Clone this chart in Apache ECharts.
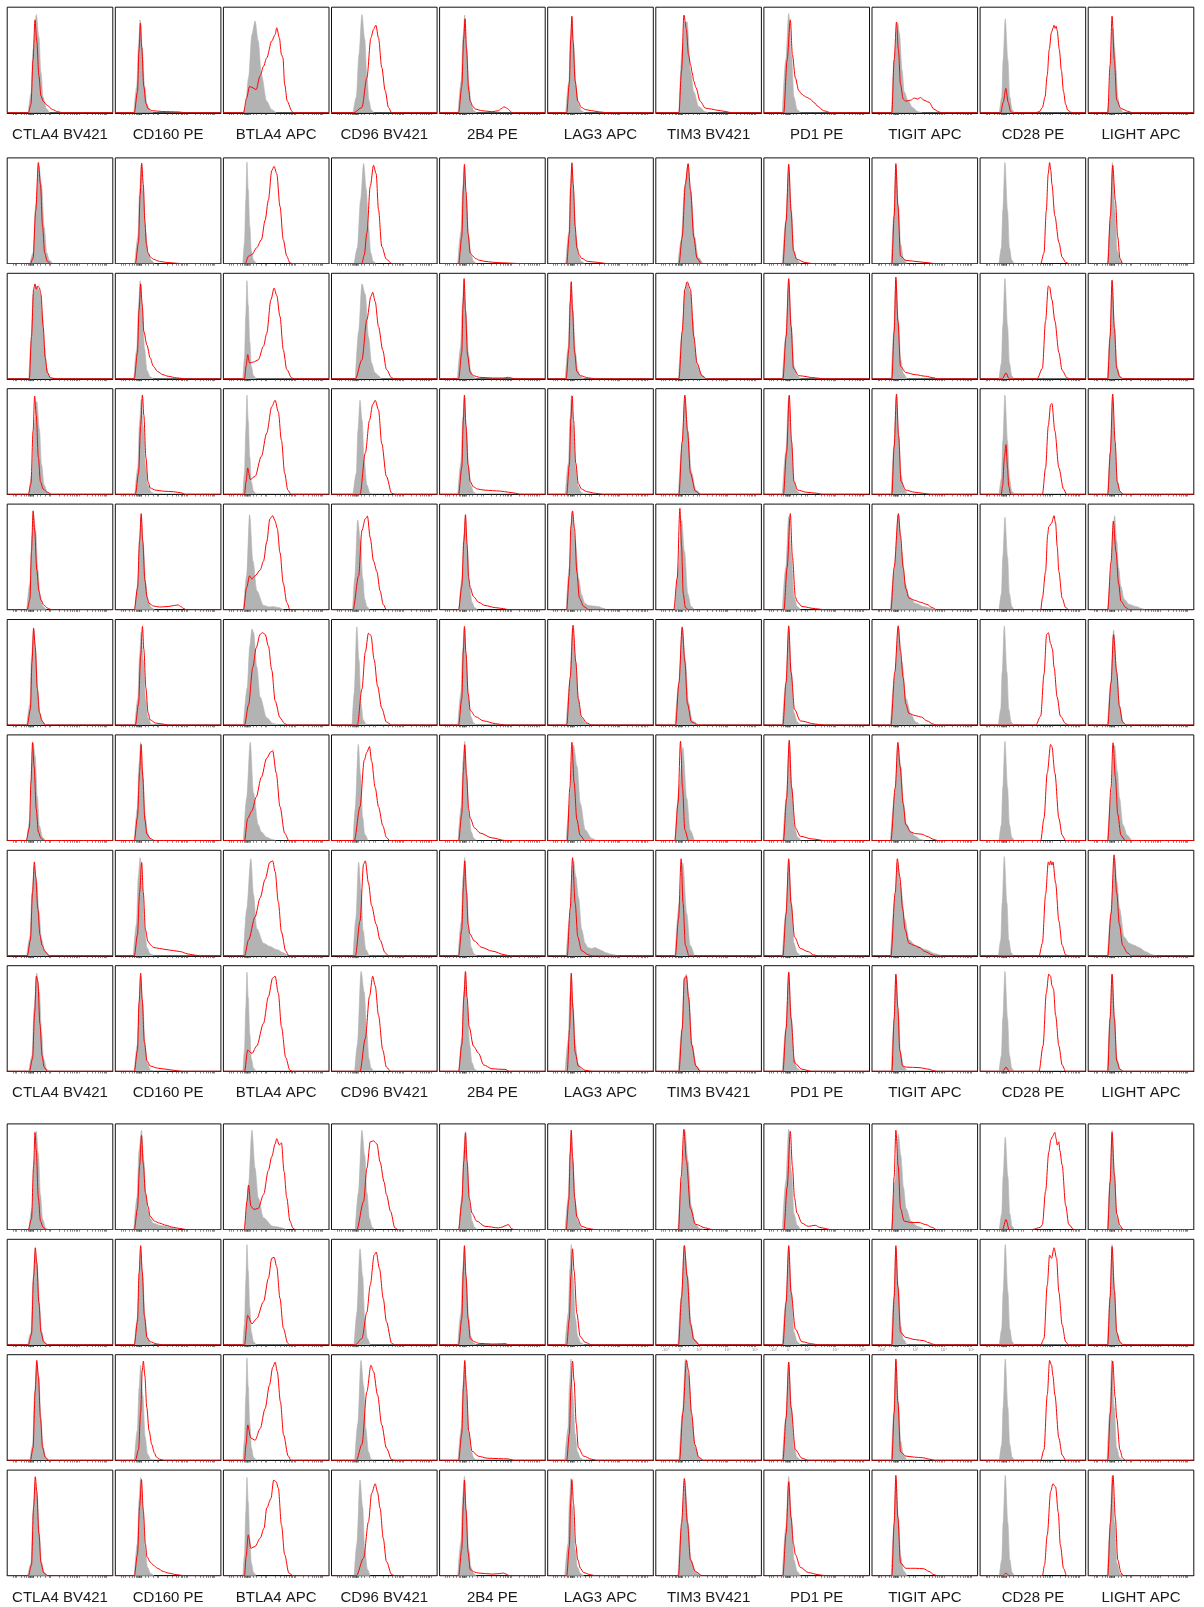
<!DOCTYPE html>
<html><head><meta charset="utf-8">
<script src="https://cdn.jsdelivr.net/npm/echarts@6/dist/echarts.min.js"></script>
<style>html,body{margin:0;padding:0;background:#fff}#chart{width:1204px;height:1607px}</style>
</head><body><div id="chart"></div>
<script>
// Marker names (columns)
const markers = ['CTLA4 BV421','CD160 PE','BTLA4 APC','CD96 BV421','2B4 PE','LAG3 APC','TIM3 BV421','PD1 PE','TIGIT APC','CD28 PE','LIGHT APC'];

// Each curve: flat list x,y,x,y... ; x = position on biexponential display scale (0-100), y = % of mode (panel height)
// 13 rows per marker, top to bottom.
const CTLA4_gray = [
 [20,0, 22.5,18, 24.5,60, 27.6,93, 30,72, 32,38, 34,15, 37,4, 40,0],
 [21.5,0, 24.5,10, 27,55, 30,92, 32.5,75, 35,35, 37.5,10, 40,3, 43,0],
 [20.5,0, 22.5,35, 24.5,80, 27,88, 29,86, 31.5,80, 33.5,60, 35.5,30, 37.5,10, 40,2, 43,0],
 [20.5,0, 23.5,20, 25.5,65, 28,88, 30.5,62, 32.5,28, 35,9, 38,2, 41,0],
 [18.5,0, 21.5,25, 23.5,70, 25,90, 27,75, 29,38, 31,14, 34,3, 37,0],
 [18.5,0, 21.5,20, 23,65, 25,90, 27,70, 29,32, 31,11, 34,2, 37,0],
 [18.5,0, 21.5,20, 23,70, 24.5,92, 26.5,80, 28.5,42, 30.5,14, 33.5,3, 36,0],
 [18.5,0, 21.5,18, 23.5,60, 25.7,85, 28,70, 30,42, 32.5,16, 35.5,5, 39,0],
 [20.5,0, 23.5,15, 25.5,60, 28,93, 30.5,75, 32.5,37, 34.5,12, 37.5,2, 40,0],
 [20.5,0, 23.5,20, 25.5,65, 27.6,93, 29.5,72, 31.5,33, 33.5,10, 36.5,1, 39,0],
 [19.5,0, 22.5,12, 24.5,60, 26.6,88, 28.5,75, 30.5,40, 32.5,13, 35,3, 38,0],
 [21.5,0, 24,14, 26,65, 28,93, 30,78, 32,40, 34,13, 36.5,3, 39,0],
 [19.5,0, 22.5,12, 24.5,60, 26.6,88, 28.5,75, 30.5,40, 32.5,13, 35,3, 38,0]
];
const CTLA4_red = [
 [20,0, 22.5,8, 24.5,50, 26.3,88, 28,68, 30,35, 32,16, 34,11, 38,7, 43,3, 48,1, 53,0],
 [22,0, 24.5,5, 27,50, 29.5,95.6, 31.5,75, 33.5,35, 35.5,10, 38,2, 41,0],
 [21,0, 23,40, 25,85, 26.3,90, 27.5,85, 29,88, 30.5,86, 32,80, 34,50, 36,20, 38,6, 41,1, 48,0],
 [20,0, 22.5,10, 24.5,60, 26,93, 27.5,75, 29.5,35, 31.5,12, 34,5, 38,2, 42,0],
 [19,0, 21.5,10, 23,55, 24.5,93.6, 26,75, 28,38, 30,18, 32,9, 35,4, 39,1, 42,0],
 [19,0, 22,15, 23.5,60, 25,92, 26.5,75, 28.5,35, 30.5,12, 33,4, 36,0],
 [18,0, 21,12, 22.5,55, 24,93, 25.5,70, 27.5,30, 29.5,8, 32,2, 35,0],
 [19,0, 22,15, 24,60, 25.7,89, 27,75, 29,45, 31,20, 33,10, 36,4, 40,0],
 [21,0, 24,12, 26,55, 27.6,90, 29,85, 31,45, 33,15, 35,4, 38,0],
 [20,0, 23,10, 25,60, 26.3,92, 27.5,75, 29.5,30, 31.5,8, 34,2, 37,0],
 [20,0, 23,10, 25,65, 26.6,92, 28,78, 30,40, 32,12, 34.5,3, 38,0],
 [22,0, 24.5,12, 26.5,65, 28,94.6, 29.5,80, 31.5,40, 33.5,12, 36,3, 39,0],
 [20,0, 23,10, 25,65, 26.6,93.7, 28,80, 30,40, 32,12, 34.5,3, 38,0]
];
const CD160_gray = [
 [17.5,0, 20.3,25, 22,65, 23.5,88, 25.5,62, 27.8,25, 30,8, 33,2, 36,0],
 [18.5,0, 21.3,25, 23,68, 24.5,93, 26.5,68, 28.8,30, 31,10, 34,3, 37,0],
 [17.5,0, 20.3,28, 22,70, 23.5,93, 25.5,68, 27.8,28, 30,8, 33,2, 36,0],
 [18.5,0, 21.3,25, 23,68, 24.5,90, 26.5,64, 28.8,26, 31,8, 34,2, 37,0],
 [18.5,0, 21.3,25, 23,68, 24.5,89, 26.5,62, 28.8,25, 31,8, 34,2, 37,0],
 [18.5,0, 21.3,25, 23,66, 24.5,88, 26.5,62, 28.8,24, 31,7, 34,1, 37,0],
 [18,0, 20.8,30, 22.5,72, 24,93, 26,65, 28.3,24, 30.5,7, 33.5,1, 36.5,0],
 [17,0, 20,30, 21.8,75, 23.5,93, 25.5,66, 27.8,26, 30,8, 33,2, 36,0],
 [18,0, 20.8,25, 22.5,66, 24,90, 26,64, 28.3,24, 30.5,7, 33.5,1, 36.5,0],
 [17.5,0, 20.5,30, 22.5,75, 24.8,94, 27,65, 29,32, 31,18, 33.5,10, 36,6, 42,4, 48,3, 55,1.5, 60,0],
 [18,0, 20.8,25, 22.5,66, 24,90, 26,64, 28.3,24, 30.5,7, 33.5,1, 36.5,0],
 [18,0, 20.8,28, 22.5,68, 24,90, 26,62, 28.3,22, 30.5,6, 33.5,1, 36.5,0],
 [18,0, 20.8,30, 22.5,72, 24,93, 26,65, 28.3,25, 30.5,8, 33.5,2, 36.5,0]
];
const CD160_red = [
 [18,0, 21,20, 22.5,60, 23.8,85, 25,62, 27,25, 29,9, 31,4, 35,2, 45,1.2, 60,0.8, 67,0],
 [19,0, 22,20, 23.5,65, 25,95, 26.5,75, 28,40, 29.5,18, 31,10, 33.5,6, 36,4, 42,2, 48.6,1, 61,0],
 [18,0, 21,25, 22.5,65, 24,90, 25.5,70, 27,45, 30,32, 33,20, 36,12, 40,7, 45,4, 50,2.5, 58,1, 67,0],
 [19,0, 22,20, 24,65, 25.7,94, 27,75, 29,35, 31,12, 33,6, 38,4, 45,3, 55,2.5, 62,1.5, 66,0],
 [18,0, 21,20, 23,65, 24.5,91, 26,65, 28,28, 30,12, 32,6, 36,3.5, 42,2.5, 50,3, 56,4, 59.6,4.5, 62,3, 65,1, 67,0],
 [19,0, 22,20, 24,65, 25.7,93.5, 27,72, 29,35, 31,12, 33,5, 38,2, 45,1, 50,0],
 [18,0, 21,22, 23,65, 24.5,91, 26,60, 28,20, 30,6, 33,2, 37,0],
 [18,0, 21,20, 23,60, 25,88.6, 26.5,60, 28.5,25, 31,13.5, 34,10, 36,8, 42,7, 48,6, 55,5, 62,4, 68,2, 73.6,1, 80,0],
 [18,0, 21,20, 22.5,65, 24,93, 25.5,68, 27.5,28, 30,10, 33,5, 40,3, 48,2, 55,1, 62,0],
 [18,0, 21,20, 23,60, 24.8,89, 26.5,62, 28.5,35, 31,22, 33,12.5, 37,8, 42,6, 48,4, 55,2, 61,1, 67,0],
 [18,0, 21,22, 22.5,68, 24,94, 25.5,70, 27.5,28, 30,7, 33,3, 39,1, 45,0],
 [19,0, 22,10, 24,45, 25.5,85, 26.6,94, 28,80, 29.8,50, 32,28, 34.5,15, 37,7, 39,3, 42,1, 46,0],
 [18,0, 21,20, 23,65, 24.8,91, 26.5,62, 28.5,30, 30,18, 33,13, 36,10, 40,7, 45.5,4, 50,2.5, 58,1, 65,0]
];
const BTLA4_gray = [
 [19,0, 20.7,5, 23.8,33, 27,74, 30,87, 33,68, 36,36, 41,11, 45.8,3, 50,0],
 [18.5,0, 20,20, 21.2,60, 22.3,96, 23.5,70, 25,35, 26.5,12, 28.5,3, 31,0],
 [18.5,0, 20,20, 21.2,60, 22.3,93, 23.5,70, 25,35, 26.5,12, 28.5,3, 31,0],
 [18.5,0, 20,20, 21.2,60, 22.3,94, 23.5,70, 25,35, 26.5,12, 28.5,3, 31,0],
 [19,0, 22,32, 24.8,90, 28,46, 31.7,18, 38,4, 44,2.5, 47,3, 52,2, 57,0],
 [19,0, 22.5,35, 25,75, 27,91, 28.5,88, 31.7,55, 34.8,26.5, 41,7, 47,1.5, 52,0],
 [19,0, 22,40, 25.4,93, 28.5,45, 33,15, 36,8, 41,3, 46,1, 50,0],
 [19,0, 22,44, 26,92, 28.5,58, 31.6,26, 38,12, 44,9, 50.5,6, 56.7,3, 61,0],
 [18.5,0, 20,20, 21.2,60, 22.3,94, 23.5,70, 25,35, 26.5,12, 28.5,3, 31,0],
 [20.7,0, 23.8,42, 27,94, 30,58, 33,30, 38,11, 47,3, 60,0],
 [18.5,0, 20,20, 21.2,60, 22.3,95, 23.5,70, 25,35, 26.5,12, 28.5,3, 31,0],
 [18.5,0, 20,20, 21.2,60, 22.3,97, 23.5,70, 25,35, 26.5,12, 28.5,3, 31,0],
 [18.5,0, 20,20, 21.2,60, 22.3,93, 23.5,70, 25,35, 26.5,12, 28.5,3, 31,0]
];
const BTLA4_red = [
 [19,0, 22,14, 24.8,25, 27,24, 31,22, 34.8,35, 38,44, 41,52, 45.8,68, 49,74, 50.5,80.5, 53,71, 55,55, 56.4,52, 58,27, 60.5,11, 64.6,2, 66,0],
 [20.7,0, 23.8,7, 27,8.5, 31.6,15, 36,22.5, 39.5,41, 42.6,60, 45.8,88, 48,92, 50.5,85, 53.6,54, 56.7,22.5, 60,7, 63,0.6, 65,0],
 [20,0, 21.5,12, 23,23, 24.8,15, 28.5,16, 33,18, 38,31, 41,43, 45,75, 48,86, 50.5,79, 53.6,59, 56.7,27.6, 60,9, 64.6,1, 67,0],
 [20,0, 21.5,12, 23,25, 25.4,14, 30,17, 36,36, 41,58, 45.8,83, 49,89, 52,78, 55,51, 58,20, 61,4, 64,0],
 [19,0, 22,21, 24.8,32, 27,29, 30,32, 34.8,37.5, 38,46, 41,64, 44,86, 46.7,89, 49,84, 51,77, 53.6,54, 56.7,25, 60,7, 63,0],
 [20,0, 23.8,19, 27.9,55, 31,73, 34.8,86, 37,87.5, 39.5,86, 42.6,75, 45.8,52, 49,23, 53.6,7, 58,1.5, 61,0],
 [20,0, 23,21, 27,28, 31,41, 36,60, 41,78, 45,84, 46.7,85, 50,64, 53.6,32, 58,7, 62,0],
 [20,0, 23.8,15, 30,37, 34.8,55, 39.5,72.5, 44,88.6, 46.7,90, 49,79.6, 52,51, 55,22.5, 59,4.6, 62,0],
 [20,0, 23,20, 27,17, 31.6,24, 38,45.5, 42.6,70.6, 46.7,88.5, 49,90, 52,74, 55,42, 59,13, 63,1, 65,0],
 [19.7,0, 22.3,26.5, 23.8,42, 26,22, 29,19, 33,20, 38,33, 42.6,56, 45.8,69, 49,81, 50.5,86, 53,80, 55,82, 57.4,55, 60,30, 63,8, 66,1, 68,0],
 [20,0, 23,28, 27,20, 31.6,25, 38,41, 42.6,63, 45.8,82, 48,83, 50.5,74, 53.6,44, 56.7,16, 61,1.5, 63,0],
 [20,0, 21.5,15, 23,33.5, 26,21, 30,19, 34.8,30, 39.5,49, 43.6,71, 46.7,88, 49,93, 51,84, 54,55.5, 57,24, 61.4,4, 64,0],
 [20,0, 21.5,18, 23.5,38.7, 26,26, 30,27.7, 34.8,35.5, 38.5,45, 41,64, 45,73, 47.6,90.5, 50,89, 52,83, 55,48, 58,20, 62,2.5, 66,0]
];
const CD96_gray = [
 [20.5,0, 23.5,15, 26,55, 28.8,93, 31.5,70, 33.5,35, 35.5,12, 37.5,3, 40,0],
 [21.5,0, 24.5,15, 27.5,60, 30.4,94.6, 33,70, 35,35, 37.2,10, 39.5,2, 42,0],
 [22.6,0, 25.7,45, 28.8,90, 32,80, 35,40, 38,15, 41,6, 44.5,3, 47,0],
 [20.5,0, 23.5,20, 25,60, 27,89, 29,70, 31,32, 33.5,9, 36.5,1, 39,0],
 [20,0, 22,30, 24.8,85, 27.5,65, 29.5,30, 31.5,10, 33.5,3, 36,0],
 [19.5,0, 21.5,30, 24,93, 26,62, 28,20, 30,5, 32.5,0],
 [20.5,0, 22.5,30, 25.4,91, 27.5,62, 29.5,22, 31.5,6, 34.5,0],
 [20.5,0, 23,35, 25.7,88.6, 28,62, 30,24, 32.5,6, 35.5,0],
 [22,0, 24.5,25, 28,94.6, 31,75, 33.5,35, 35.5,12, 37.5,3, 40,0],
 [22.5,0, 25.5,35, 28.8,94, 31.5,70, 33.5,35, 36,10, 38.5,2, 41,0],
 [21.5,0, 24,30, 27,91, 29.5,65, 31.5,25, 34,6, 36.5,0],
 [22,0, 25,35, 27.9,94.6, 30.5,70, 32.5,30, 35,8, 37.5,1, 40,0],
 [21.5,0, 24,30, 27,90.6, 29.5,65, 31.5,25, 34,6, 36.5,0]
];
const CD96_red = [
 [21,0, 28.8,5, 33.5,33, 37.3,71, 39.8,79, 42,83, 44.5,71, 47.6,43, 50.8,21, 54,5, 57,0],
 [28.8,0, 31,8, 33.5,29, 36.7,73, 39.8,93, 42.3,85, 44.5,51, 47.6,16, 52,4, 57,0],
 [22.6,0, 28.8,18, 33.5,56, 37.3,78, 39,82, 41.4,73, 44.5,49.5, 48.6,27, 52,9, 57,1, 60,0],
 [27,0, 32,39, 36,70, 39,85, 41.4,89, 44.5,80, 47.6,48, 52,17, 57,1, 60,0],
 [20.4,0, 25.7,32, 28.8,75, 32,86, 34,88.6, 36.7,68, 39.8,46, 43,36, 46,18, 49,5, 52,0],
 [24.5,0, 28.8,34, 32,69, 35,87, 37.3,85, 40.4,62, 43.6,37, 47.6,16, 52,3, 57,0],
 [21.6,0, 27,32, 31,76, 33.5,83.6, 36,89, 38,75, 41.4,50, 44.5,32, 48.6,14, 52,3, 55,0],
 [22.6,0, 27,33, 30.4,87, 32,90, 35,69, 38,47.5, 42.3,30, 46,15, 50.8,3, 54,0],
 [27,0, 32,31, 36,71, 39,90, 41.4,81, 44.5,53, 48.6,20, 52,4, 56,0],
 [24,0, 30.4,26.5, 33.5,58, 36.7,83, 39.8,84, 43,81, 46,64, 49.8,45, 52,33, 56,17, 60,1.5, 63,0],
 [22.6,0, 28.8,6, 33.5,31, 36.7,56.6, 40.4,85, 42.3,88, 45.5,72, 49,44, 52,22, 57,1.6, 60,0],
 [23.5,0, 28.8,15, 33.5,65, 37.3,90, 39.8,84, 43.6,62, 47.6,33.5, 52,11.6, 57,0.6, 60,0],
 [23.5,0, 30.4,16.7, 35,51, 38,78, 41.4,87, 43.6,79, 46,64, 49,35.5, 52,13.5, 57,1, 60,0]
];
const B2B4_gray = [
 [17.5,0, 20.5,30, 22.2,72, 23.8,92.5, 25.6,62, 27.8,25, 30,8, 32.5,2, 35,0],
 [17.2,0, 20.2,30, 21.9,72, 23.5,92, 25.3,62, 27.5,25, 29.7,8, 32.2,2, 34.7,0],
 [16.9,0, 19.9,30, 21.6,72, 23.2,93, 25,62, 27.2,25, 29.4,8, 31.9,2, 34.4,0],
 [17.2,0, 20.2,30, 21.9,72, 23.5,92, 25.3,62, 27.5,25, 29.7,8, 32.2,2, 34.7,0],
 [18.2,0, 21.2,30, 22.9,70, 24.5,88, 26.3,58, 28.5,22, 30.7,7, 33.2,2, 35.7,0],
 [17.2,0, 20.2,30, 21.9,72, 23.5,92, 25.3,62, 27.5,25, 29.7,8, 32.2,2, 34.7,0],
 [17.5,0, 20.5,32, 22.2,75, 23.8,94, 25.6,62, 27.8,25, 30,8, 32.5,2, 35,0],
 [17.5,0, 20.5,32, 22.2,75, 23.8,93, 25.6,62, 27.8,25, 30,8, 32.5,2, 35,0],
 [18.2,0, 21.2,32, 22.9,75, 24.5,94, 26.3,62, 28.5,25, 30.7,8, 33.2,2, 35.7,0],
 [18.2,0, 21.2,32, 22.9,75, 24.5,93, 26.3,62, 28.5,25, 30.7,8, 33.2,2, 35.7,0],
 [17.2,0, 20.2,30, 21.9,72, 23.5,92, 25.3,62, 27.5,25, 29.7,8, 32.2,2, 34.7,0],
 [17.5,0, 20.5,30, 22.2,72, 23.8,93, 25.6,62, 27.8,25, 30,8, 32.5,2, 35,0],
 [17.2,0, 20.2,32, 21.9,75, 23.5,94, 25.3,62, 27.5,25, 29.7,8, 32.2,2, 34.7,0]
];
const B2B4_red = [
 [18,0, 21,25, 22.8,70, 24.1,89, 25.5,60, 27.5,22, 29,11, 31.5,6, 34,3.5, 40,2, 49.5,1, 55.8,2, 58.5,4, 61,5.7, 63.5,4.5, 65,3.5, 67,1.5, 69,0],
 [18,0, 21,25, 22.5,70, 23.5,94, 25,68, 27,28, 29,10, 31.5,7, 34,4.7, 38,3, 43,2, 50,1.2, 59,0.6, 75,0],
 [18,0, 21,25, 22.2,70, 23.2,95, 24.5,65, 26.5,22, 29,6, 32,3, 38,1.5, 50,0.8, 60,0.8, 65,1.5, 68,0.8, 72,0],
 [18,0, 21,25, 22.5,70, 23.5,94, 25,65, 27,28, 29,12, 32,7, 36,5, 42,4, 50,3.5, 58,3, 65,2, 72,1, 76,0],
 [18,0, 21,22, 23,65, 24.5,90, 26,62, 27.5,30, 29,21, 32,12.5, 37,7, 43,4, 52.7,2, 60.5,1, 65,0],
 [18,0, 21,25, 22.5,70, 23.5,93.5, 25,68, 27,30, 29,14, 34,8, 41.7,4, 53,1.4, 62,0],
 [18,0, 21,25, 22.5,65, 23.8,90.7, 25.5,62, 27.5,30, 29,21, 33,12, 38.5,7, 49.5,2.5, 62,0],
 [18,0, 21,25, 22.5,65, 23.8,90, 25.5,60, 27,30, 28.5,21, 33,14, 40,8, 49.5,4.6, 62,1, 67,0],
 [18,0, 21,25, 23,70, 24.5,94.6, 26,70, 28,42, 32,24, 37,17, 41.7,6, 49.5,2.5, 56,2, 62,1.8, 66,0],
 [18,0, 21,25, 23,65, 24.5,91.5, 26,65, 28,30, 30.7,15.6, 35,8, 43,3, 55.8,1.5, 60,2.5, 62,3.5, 65,4.7, 68,1, 70,0],
 [18,0, 21,25, 22.5,70, 23.5,94, 25,65, 27,25, 29,6, 33,3, 37,1.5, 50,0.8, 58,1, 62,1.2, 66,0],
 [18,0, 21,25, 22.5,68, 23.8,94.6, 25.5,68, 27.5,28, 30.7,8.5, 37,3.8, 45,2, 55.8,1.6, 65,1.3, 70,0],
 [18,0, 21,25, 22.5,68, 23.5,90.6, 25,62, 27,22, 29,5.7, 33,3.5, 37,2.5, 50,1.5, 57,2, 60.5,2.5, 63,1.5, 66,0]
];
const LAG3_gray = [
 [17.1,0, 20.1,30, 21.6,72, 22.9,90, 24.5,65, 26.9,25, 29.1,8, 31.9,2, 34.9,0],
 [17.1,0, 20.1,30, 21.6,75, 22.9,96, 24.5,68, 26.9,26, 29.1,8, 31.9,2, 34.9,0],
 [16.5,0, 19.5,30, 21,72, 22.3,92, 23.9,65, 26.3,25, 28.5,8, 31.3,2, 34.3,0],
 [16.7,0, 19.7,30, 21.2,72, 22.5,94, 24.1,65, 26.5,25, 28.7,8, 31.5,2, 34.5,0],
 [17.5,0, 20.4,40, 23,92, 26.2,65, 29.2,30, 32.2,14, 35,6, 38.6,4, 43,3.5, 48,3, 52,1.5, 55.8,0],
 [17.5,0, 21,40, 23.5,92, 26.3,62, 29,25, 31.5,8, 35.5,2, 39,0],
 [17.5,0, 20.7,35, 23.5,85, 24.5,90, 27.8,70, 30.9,35, 35.6,10, 41.7,2, 46,0],
 [17.5,0, 20.7,35, 23.5,85, 24.5,90, 26.7,75, 29.2,55, 32.2,25, 35.4,12, 38,8, 41.7,7, 44.8,8, 48,6.5, 51,5, 55,3, 60.5,1.5, 66.8,0],
 [16.5,0, 19.5,30, 21,72, 22.3,92, 23.9,65, 26.3,25, 28.5,8, 31.3,2, 34.3,0],
 [16.5,0, 19.5,30, 21,72, 22.3,94, 23.9,65, 26.3,25, 28.5,8, 31.3,2, 34.3,0],
 [16.5,0, 19.5,30, 21,72, 22.3,95, 23.9,65, 26.3,25, 28.5,8, 31.3,2, 34.3,0],
 [16.2,0, 19.2,30, 20.7,72, 22,96, 23.6,65, 26,25, 28.2,8, 31,2, 34,0],
 [16.2,0, 19.2,30, 20.7,72, 22,92, 23.6,65, 26,25, 28.2,8, 31,2, 34,0]
];
const LAG3_red = [
 [18,0, 20.5,28, 21.8,70, 22.9,91.5, 24,68, 26,30, 28.5,11, 32,5, 36,3, 41.7,2, 48,1, 54,0.3, 60,0],
 [18,0, 20.5,28, 21.8,72, 22.9,95, 24.2,75, 26,35, 27.6,15, 30,8, 32,5, 38,2, 48,1, 55,0],
 [17.5,0, 20,28, 21.3,72, 22.3,92, 23.5,65, 25.5,25, 27.6,7, 31,3, 38.6,1, 45,0],
 [18,0, 20.5,28, 22,72, 23.2,93, 24.5,70, 26.5,30, 29,10, 32,5, 37,2.5, 45,1, 52,0],
 [18,0, 20.4,32, 22,79, 23.5,93.6, 25.4,77, 27.6,36, 30,11, 34,3, 39,0],
 [18,0, 21.3,45, 24,94.6, 26.6,60, 29,25, 32,8, 37,2, 41.7,0],
 [18.5,0, 21,50, 22.9,93, 25,55, 27.6,20, 30.7,5, 35,0],
 [18.5,0, 21.3,45, 23.5,93, 26,50, 28.5,18, 32,5, 38.6,1, 42,0],
 [18.5,0, 20.7,40, 22.3,93, 23.8,60, 26,18, 29,5, 35.4,1, 41.7,0],
 [17.5,0, 20,28, 21.3,72, 22.3,94, 23.6,68, 25.5,30, 27.6,12, 32,3, 38.6,1, 44,0],
 [18,0, 20.5,25, 22,65, 23.5,91, 25,70, 27.6,30, 30.7,8, 35.4,2.5, 41.7,0],
 [18,0, 20.5,25, 22,68, 23.5,94, 25,75, 27,35, 29,12, 34,4, 41.7,1, 46,0],
 [18,0, 20.5,28, 21.8,70, 22.9,91, 24.5,68, 26.5,30, 28.5,15, 31,7, 34,3, 40,1, 45,0]
];
const TIM3_gray = [
 [21.9,0, 25,60, 27.5,86, 29.7,86, 32.8,40, 36,20, 40.6,6, 47,1, 50,0],
 [21,0, 24,22, 27.3,72, 30.5,94, 33.3,68, 36.8,25, 40,6, 44.5,0],
 [21.5,0, 24.7,42, 27.5,82, 29.7,90, 32.8,82, 35.3,55, 37,30, 39.5,12, 44,3, 48,0],
 [21.4,0, 24.7,45, 27.5,92, 30.5,60, 33.5,22, 38,4, 42.5,0],
 [18.2,0, 21.6,40, 24.4,85, 27.2,55, 30.3,15, 33.4,3, 36.5,0],
 [18.2,0, 21.6,38, 25,92, 28,62, 30.8,22, 34.5,4, 40.5,0],
 [18.2,0, 22.2,50, 25.6,88, 29.3,40, 32.5,10, 36.5,0],
 [18.2,0, 22.2,50, 25.6,88, 29.3,40, 32.5,10, 36.5,0],
 [21.4,0, 24.7,40, 27,88, 29,92, 31.4,70, 34.5,25, 38.5,5, 42.5,0],
 [21,0, 24.2,45, 27.5,94, 30.5,65, 33.6,22, 37.6,5, 41.5,1, 45.5,0],
 [21,0, 24.1,45, 27,94, 30.2,65, 33.4,20, 36.6,5, 41.5,0],
 [22,0, 25.3,45, 28,96, 31.3,80, 34.2,40, 37.5,12, 41,2, 44.5,0],
 [21,0, 24.1,45, 27.5,90, 30.5,50, 33.4,15, 38,3, 42.5,0]
];
const TIM3_red = [
 [21.9,0, 24.4,40, 26.6,92.5, 28.8,80, 31,55, 33,45, 34.4,38, 36,30, 38,24, 42,11, 47,4.4, 53,3.5, 57.8,2.5, 65.6,1.3, 72,0],
 [22,0, 25,25, 28,75, 30.6,94.6, 32.8,70, 36,25, 39,5, 43,0],
 [21.9,0, 25,45, 27.5,85, 29.7,92, 32.8,85, 36,40, 39,15, 43.7,3, 48,0],
 [21.9,0, 25,50, 27.5,94, 30,60, 32.8,20, 37.5,3, 42,0],
 [17,0, 20.3,30, 22.8,96, 24.4,60, 26,15, 28,2, 31,0],
 [18.75,0, 21.9,40, 25,93, 27.5,60, 30,20, 33.8,3, 40,0],
 [18,0, 21,35, 23.4,94, 25.3,50, 27.5,10, 31,0],
 [18.5,0, 21.5,35, 24,92, 25.8,50, 28,10, 31.5,0],
 [21.9,0, 25,40, 27,88, 29,90, 31,70, 34,25, 38,5, 42,0],
 [21.5,0, 24,50, 26.6,95, 29,65, 32.8,20, 37.5,5, 47,1.5, 53,0],
 [21.5,0, 24.4,45, 27,94, 29.7,65, 32.8,20, 36,5, 41,0],
 [22.5,0, 25.6,45, 29,94.6, 31,85, 33.8,45, 37,15, 40.6,3, 45,0],
 [21.5,0, 24.4,50, 27,92, 30,50, 32.8,15, 37.5,4, 44,0]
];
const PD1_gray = [
 [17.5,0, 20.7,50, 23.5,94, 26.1,55, 28.5,15, 31.5,3, 34.5,0],
 [17.5,0, 20.7,40, 23.5,93, 26.1,50, 28.5,12, 31.5,3, 34.5,0],
 [17.5,0, 20.7,40, 23.5,93, 26.1,50, 28.5,12, 31.5,3, 34.5,0],
 [17.5,0, 20.7,40, 23.5,92, 26.1,50, 28.5,12, 31.5,3, 34.5,0],
 [17.5,0, 20.7,40, 23.5,88, 26.1,50, 28.5,12, 31.5,3, 34.5,0],
 [17.5,0, 20.7,40, 23.5,92, 26.1,50, 28.5,12, 31.5,3, 34.5,0],
 [18,0, 21.2,40, 24,93, 26.6,50, 29,12, 32,3, 35,0],
 [17.5,0, 20.7,40, 23.5,90, 26.1,50, 28.5,12, 31.5,3, 34.5,0],
 [17.5,0, 20.7,40, 23.5,93, 26.1,50, 28.5,12, 31.5,3, 34.5,0],
 [17.5,0, 20.7,45, 23.5,95, 26.1,55, 28.5,15, 31.5,4, 34.5,0],
 [17.5,0, 20.7,40, 23.5,93, 26.1,50, 28.5,12, 31.5,3, 34.5,0],
 [17.5,0, 20.7,40, 23.5,93, 26.1,50, 28.5,12, 31.5,3, 34.5,0],
 [17.5,0, 20.7,45, 23.5,94, 26.1,55, 28.5,15, 31.5,4, 34.5,0]
];
const PD1_red = [
 [18.8,0, 22,50, 25,88, 27,55, 29.8,33, 33,21, 36,17.6, 38,16, 40.8,14.5, 44,13, 47,10, 51.7,5.7, 56.4,2, 62.7,0.3, 66,0],
 [18,0, 21,40, 23.5,94, 25.7,50, 28,12, 31,4, 39,1, 45,0],
 [18,0, 21,40, 23.5,95, 25.7,50, 28,10, 33,3, 48.6,1, 57,0],
 [18.5,0, 21.5,40, 24,94, 26.2,50, 28.5,12, 32,4, 40,2, 50,1, 55,0],
 [19,0, 22,40, 25,91, 27,50, 29.8,12, 32,7, 36,3, 48.6,1, 57,0],
 [18,0, 21,40, 23.5,94, 25.7,50, 29,15, 34.5,4, 48.6,1, 57,0],
 [18.5,0, 21.5,40, 24,95, 26.2,50, 29.8,12, 34.5,4, 45.5,1.5, 57,0],
 [18,0, 21,40, 23.5,92, 25.7,50, 29,18, 34.5,7, 42,4, 47,1, 52,0],
 [18,0, 21,40, 23.5,94, 25.7,50, 29,8, 36,2, 45,0],
 [19,0, 22,40, 25,93, 27,60, 29,30, 31.3,15.6, 36,6, 42,3, 48.6,4, 53,2, 58,1, 62,0],
 [18,0, 21,40, 23.5,94, 25.7,50, 29.8,15, 36,3, 45.5,1, 52,0],
 [18,0, 21,40, 23.5,93, 25.7,50, 29.8,10, 36,2, 42,0],
 [18,0, 21,40, 23.5,89, 25.7,55, 28,30, 29.8,20, 34.5,8, 42,3, 51.7,1, 58,0]
];
const TIGIT_gray = [
 [18.5,0, 20.8,50, 24.5,85, 26,75, 28.5,40, 30.5,20, 34,12, 38.5,5, 43.5,1, 47.5,0],
 [18.3,0, 20.6,45, 22.6,93, 25,55, 27.2,18, 29.8,5, 33,0],
 [18.3,0, 20.6,45, 22.6,94, 25,55, 27.2,18, 29.8,5, 33,0],
 [18.3,0, 20.6,45, 23,93, 25.4,55, 27.6,18, 30.2,5, 33.4,0],
 [17.5,0, 20.7,35, 25,90, 28.3,55, 31.3,25, 35.3,12, 41,6, 49,3, 57,1, 61,0],
 [17.5,0, 21.3,45, 25,92, 28.3,60, 32.3,25, 37,10, 41.3,3, 46,0],
 [17.5,0, 21.7,45, 24.5,91, 27.3,70, 29.8,35, 32.3,16, 37,8, 41,4, 46,1, 50,0],
 [17.5,0, 21.7,55, 24,88, 27.3,65, 31,35, 35.3,15, 41,10, 50.5,6, 60,2, 66,0],
 [18.3,0, 20.6,45, 22.6,92, 25,55, 27,18, 29.8,5, 33,0],
 [18.5,0, 21.7,45, 25,90, 27.3,70, 29.8,40, 32.3,20, 37,8, 43,3, 49,0],
 [18.3,0, 20.6,45, 22.6,92, 25,55, 27.2,18, 29.8,5, 33,0],
 [18.3,0, 20.6,45, 22.6,94, 25,55, 27.2,18, 29.8,5, 33,0],
 [18.3,0, 20.6,45, 22.6,92, 25,55, 27.2,18, 29.8,5, 33,0]
];
const TIGIT_red = [
 [18.8,0, 21,50, 23.2,86, 25,60, 27,27, 29.5,13, 32,11, 36.7,12, 40,14, 43,13, 46,14.5, 49,12, 54,10, 58.6,3.5, 63,1, 66,0],
 [18.8,0, 21,45, 22.6,94.6, 24.5,55, 27,7, 32,3, 44.5,1.6, 54,0.6, 58,0],
 [18.8,0, 21,45, 22.6,96.5, 24.5,55, 27,12, 32,6, 41,4, 50.8,2.5, 58.6,1, 62,0],
 [18.8,0, 21,45, 23.2,95, 25.2,55, 27.5,12, 32,4, 40,2, 48,1, 55,0],
 [17.9,0, 21,40, 25,91, 27,70, 29.5,40, 32,20, 35,11, 40,9, 46,7, 52,5, 57,2, 61,0],
 [17.9,0, 21.6,50, 24.8,94, 27,70, 29.5,45, 32,20, 35,11, 41,9, 47,7.5, 52,4, 58,1, 61,0],
 [17.9,0, 22,50, 24.5,93, 26.6,70, 29.5,35, 32,15, 36.7,8, 41,6.5, 47,6, 52,4, 58.6,1, 62,0],
 [17.9,0, 22,60, 24,92, 26.3,75, 29,45, 31.3,25, 35,12, 40,10, 44.5,8, 50.5,4, 57,1, 60,0],
 [18.8,0, 21,50, 22.6,92, 24.5,60, 26.3,20, 29,5, 32,4, 44.5,3.5, 54,2, 58.6,0.5, 61,0],
 [18.8,0, 21,50, 22.6,94, 24.8,60, 27,20, 30.4,8, 36.7,6.6, 44.5,6.6, 50.8,4.7, 57,2, 61,0],
 [18.8,0, 21,45, 22.6,94, 24.5,55, 27,12, 32,7, 41,5, 49,4, 54,2, 58.6,0.5, 61,0],
 [18.8,0, 21,45, 22.6,96, 24.5,55, 27,8, 32,4, 40,3, 47.6,2.5, 55,1, 59,0],
 [18.8,0, 21,50, 22.6,95, 24.5,55, 27,12, 32,7, 41,7, 49,6.6, 54,4, 58.6,1, 62,0]
];
const CD28_gray = [
 [18.3,0, 20.5,15, 21.8,50, 23.8,89, 26.3,50, 28.1,15, 30.3,3, 32.3,0],
 [18,0, 20.2,15, 21.5,50, 23.5,95.6, 26,50, 27.8,15, 30,3, 32,0],
 [18,0, 20.2,15, 21.5,50, 23.5,95, 26,50, 27.8,15, 30,3, 32,0],
 [18,0, 20.2,15, 21.5,50, 23.5,94, 26,50, 27.8,15, 30,3, 32,0],
 [18,0, 20.2,15, 21.5,50, 23.5,87.5, 26,50, 27.8,15, 30,3, 32,0],
 [17.4,0, 19.6,15, 20.9,50, 22.9,94, 25.4,50, 27.2,15, 29.4,3, 31.4,0],
 [18,0, 20.2,15, 21.5,50, 23.5,94, 26,50, 27.8,15, 30,3, 32,0],
 [17.4,0, 19.6,15, 20.9,50, 22.9,94, 25.4,50, 27.2,15, 29.4,3, 31.4,0],
 [18,0, 20.2,15, 21.5,50, 23.5,94.6, 26,50, 27.8,15, 30,3, 32,0],
 [18.3,0, 20.5,15, 21.8,50, 23.8,87.5, 26.3,50, 28.1,15, 30.3,3, 32.3,0],
 [18.3,0, 20.5,15, 21.8,50, 23.8,95, 26.3,50, 28.1,15, 30.3,3, 32.3,0],
 [18.3,0, 20.5,15, 21.8,50, 23.8,96, 26.3,50, 28.1,15, 30.3,3, 32.3,0],
 [18.3,0, 20.5,15, 21.8,50, 23.8,95, 26.3,50, 28.1,15, 30.3,3, 32.3,0]
];
const CD28_red = [
 [19.5,0, 21.9,10, 24.4,23, 26.6,10, 29,1, 31,0, 52,0, 56,1, 59,5, 61.5,15, 63.5,35, 65.5,60, 67.5,76, 69,80, 70,83, 71,80, 72,82, 73,78, 75,60, 77,40, 79,20, 81,8, 83,2.5, 86,0.5, 89,0],
 [57.4,0, 60.5,10, 62.7,50, 64.5,85, 65.8,95.6, 67,88, 68,75, 70.8,45, 74.6,20, 77.7,6, 81,1, 84,0],
 [21,0, 24.5,5.6, 27.5,0, 54,0, 59,10, 62,55, 64.6,88, 65.8,87, 68,75, 70.8,55, 74.6,25, 77.7,8, 82.4,1, 85,0],
 [20,0, 21.3,8, 23,35, 24.5,47, 26,25, 27,8, 29,0, 59,0, 62,25, 64.6,65, 66.8,85, 68,86, 70.8,60, 74.6,25, 79,5, 82,0],
 [57.4,0, 59,11, 62,36, 64,71, 65,78.6, 67.7,82, 70,89, 71.5,82, 73,60, 74.6,36, 77.7,11, 81,2, 84,0],
 [52.7,0, 57.4,8.6, 60.5,48, 63,85.7, 64.6,87.5, 66.8,77, 68.5,72, 70,55, 73,26.5, 76,8.6, 81,1.4, 84,0],
 [57.4,0, 60.5,21, 63.6,64, 66.8,91, 68,89, 70.8,64, 74.6,21, 77.7,5, 81,0],
 [55.8,0, 59,12, 62,58, 64.6,89, 65.8,86, 66.8,90, 68,86, 69,89, 71.5,69, 74.6,33, 77.7,10, 81,1, 84,0],
 [21.5,0, 24.5,4, 27.5,0, 55.8,0, 59.6,24, 62.7,74, 65,92, 66.8,90, 68,81, 69.5,78, 71.5,53, 74.6,24, 77.7,6, 81,0],
 [21.3,0, 24.5,9.4, 27.5,0, 49.5,0, 57,2, 59,4.7, 62,36, 65,73, 67,85, 68.5,88, 70.8,92, 72,86, 73,80, 74.6,83, 75.5,75, 77.7,61, 81,23, 84,4.7, 88.7,0],
 [57.4,0, 60.5,6, 63.6,56.6, 65.8,85, 67.7,82, 70,92, 72.4,82, 74.6,50, 77.7,19, 81,3, 84,0],
 [57.4,0, 60.5,10, 63.6,62, 65.8,94.6, 67.7,90, 69,80, 70.8,62, 74.6,21, 77.7,5, 81,0],
 [21.5,0, 24.5,2.5, 27.5,0, 59,0, 61,10, 63.6,38.7, 66.8,79.6, 69,87, 71.5,84, 74,60, 76,29, 79,7, 82,0]
];
const LIGHT_gray = [
 [18.2,0, 19.8,12, 21.3,45, 22.6,78, 23.6,80, 25,62, 26.5,40, 28,15, 30,4, 33,0],
 [18.5,0, 20.9,40, 22.9,95.6, 25.3,50, 27.5,12, 30.5,2, 33.4,0],
 [18.2,0, 20.6,40, 22.6,93, 25,48, 27.2,12, 30.2,2, 33.1,0],
 [18.5,0, 20.9,40, 22.9,92, 25.3,48, 27.5,12, 30.5,2, 33.4,0],
 [18.5,0, 21.5,35, 23.5,75, 25,89, 27,65, 28.8,40, 31,22, 34,10, 38.9,5, 45,3, 51,1, 54,0],
 [18.3,0, 21.4,40, 24,90, 27.2,50, 29.8,18, 32.8,3, 36,0],
 [18.3,0, 21.4,40, 25,90, 27.7,65, 29.7,40, 32.8,15, 37,5, 41,0],
 [18.3,0, 21.4,40, 25,92, 27.2,70, 29.7,45, 34,18, 38.9,12, 43.6,10, 48,8, 54.5,4, 60.8,1, 65,0],
 [18.2,0, 20.6,50, 22.6,92, 25,50, 27.2,12, 30.2,2, 33.1,0],
 [18.2,0, 20.6,45, 22.6,94, 25,50, 27.2,12, 30.2,2, 33.1,0],
 [18.2,0, 20.6,45, 22.6,95, 25,50, 27.2,12, 30.2,2, 33.1,0],
 [17.9,0, 20.3,45, 22.3,95, 24.7,50, 26.9,12, 29.9,2, 32.8,0],
 [18.2,0, 20.6,45, 22.6,94, 25,50, 27.2,12, 30.2,2, 33.1,0]
];
const LIGHT_red = [
 [18.5,0, 20.7,45, 22.6,91.5, 24.8,50, 27,12, 31,4, 38.9,1, 42,0],
 [18.5,0, 21,45, 23.2,93, 25.7,60, 28,25, 30,5, 32.6,0],
 [18.5,0, 20.7,40, 22.6,93.4, 24.8,48, 27,10, 30,2, 33,0],
 [18.5,0, 21,40, 23.2,95, 25.5,50, 27.5,12, 30,3, 33,0],
 [18.5,0, 21.6,45, 23.8,84, 26.3,55, 28.8,25, 31,8, 35.7,2, 38.9,0],
 [18.5,0, 21.6,40, 24,85.7, 27,50, 29.5,18, 32.6,3, 36,0],
 [18.5,0, 21.6,50, 23.5,92.5, 25.7,60, 28,25, 31,5, 35,0],
 [18.5,0, 21.6,40, 24.5,95.7, 27,60, 29.5,30, 32.6,10, 37,3, 41,0],
 [18.5,0, 20.7,50, 22.6,92, 24.8,50, 27,10, 30,2, 33,0],
 [18.5,0, 20.7,45, 22.6,92, 24.8,52, 27,15, 30,4, 33,0],
 [18.5,0, 20.7,45, 22.6,93, 24.8,52, 27,12, 30,3, 33,0],
 [18.5,0, 21,45, 23.2,94, 25.5,60, 27,40, 30,10, 32.6,2, 35,0],
 [18.5,0, 21,50, 23.5,95, 25.7,55, 28,15, 31,3, 33,0]
];

// Biexponential axis ticks (display-scale positions) and the few printed tick labels
const tickValues = [5.5, 7.2, 9, 13, 16, 18.2, 19.8, 21, 21.7, 22.3, 23, 23.7, 24.3, 25, 28, 31, 35.7, 39.4, 41, 49.1, 53.9, 57.3, 59.9, 62, 63.8, 65.4, 66.8, 68, 75.8, 80.4, 83.7, 86.2, 88.2, 90, 91.5, 92.8, 94];
const tickLabelValues = [9, 23, 41, 68, 94];
const tickLabelText = ['-10³', '0', '10³', '10⁴', '10⁵'];
const labelledTickPanels = ['10-6', '10-7', '10-8']; // row-col

const grayCurves = [CTLA4_gray, CD160_gray, BTLA4_gray, CD96_gray, B2B4_gray, LAG3_gray, TIM3_gray, PD1_gray, TIGIT_gray, CD28_gray, LIGHT_gray];
const redCurves  = [CTLA4_red, CD160_red, BTLA4_red, CD96_red, B2B4_red, LAG3_red, TIM3_red, PD1_red, TIGIT_red, CD28_red, LIGHT_red];

// ---- layout ----
const X_MIN = 0, X_MAX = 100;
const COL_LEFT0 = 7.2, COL_PITCH = 108.1, PANEL_W = 105.6, PANEL_H = 105.6, ROW_PITCH = 115.4;
const blocks = [{rows: 1, top: 7.2}, {rows: 8, top: 157.9}, {rows: 4, top: 1123.9}];
const rowTops = [], labelRows = new Set();
blocks.forEach(b => { for (let k = 0; k < b.rows; k++) rowTops.push(b.top + k * ROW_PITCH); labelRows.add(rowTops.length - 1); });

function toPairs(flat) { const out = []; for (let i = 0; i < flat.length; i += 2) out.push([flat[i], flat[i + 1]]); return out; }

const grids = [], xAxes = [], yAxes = [], series = [];
const FONT = '"Liberation Sans", Arial, Helvetica, sans-serif';
let gi = 0;
rowTops.forEach((top, r) => {
  markers.forEach((name, c) => {
    grids.push({ left: COL_LEFT0 + c * COL_PITCH, top: top, width: PANEL_W, height: PANEL_H,
      show: true, borderColor: '#111', borderWidth: 1, backgroundColor: '#fff' });
    const labelled = labelledTickPanels.indexOf(r + '-' + c) >= 0;
    xAxes.push({ gridIndex: gi, type: 'value', min: X_MIN, max: X_MAX,
      axisLine: { show: true, lineStyle: { color: '#111', width: 1 } },
      axisTick: { show: true, customValues: tickValues, length: 2.2, inside: false, lineStyle: { color: '#333', width: 0.6 } },
      axisLabel: { show: labelled, customValues: tickLabelValues, fontSize: 4, color: '#888', margin: 3, fontFamily: FONT,
        formatter: v => { const k = tickLabelValues.findIndex(t => Math.abs(t - v) < 0.01); return k >= 0 ? tickLabelText[k] : ''; } },
      splitLine: { show: false },
      name: labelRows.has(r) ? name : '', nameLocation: 'middle', nameGap: 14.5,
      nameTextStyle: { fontSize: 15, color: '#1a1a1a', fontFamily: FONT, verticalAlign: 'top' } });
    yAxes.push({ gridIndex: gi, type: 'value', min: 0, max: 100, show: false });
    series.push({ type: 'line', xAxisIndex: gi, yAxisIndex: gi, data: toPairs(grayCurves[c][r]),
      showSymbol: false, smooth: 0.3, smoothMonotone: 'x', silent: true, z: 2,
      lineStyle: { color: '#b3b3b3', width: 0.6 }, areaStyle: { color: '#b3b3b3', opacity: 1 } });
    const red = [[X_MIN, 0]].concat(toPairs(redCurves[c][r]), [[X_MAX, 0]]);
    series.push({ type: 'line', xAxisIndex: gi, yAxisIndex: gi, data: red,
      showSymbol: false, smooth: 0.3, smoothMonotone: 'x', silent: true, z: 3,
      lineStyle: { color: '#ff0000', width: 1 } });
    gi++;
  });
});

const chart = echarts.init(document.getElementById('chart'), null, { renderer: 'canvas', width: 1204, height: 1607 });
chart.setOption({ animation: false, backgroundColor: '#fff', grid: grids, xAxis: xAxes, yAxis: yAxes, series: series });
</script>
</body></html>
